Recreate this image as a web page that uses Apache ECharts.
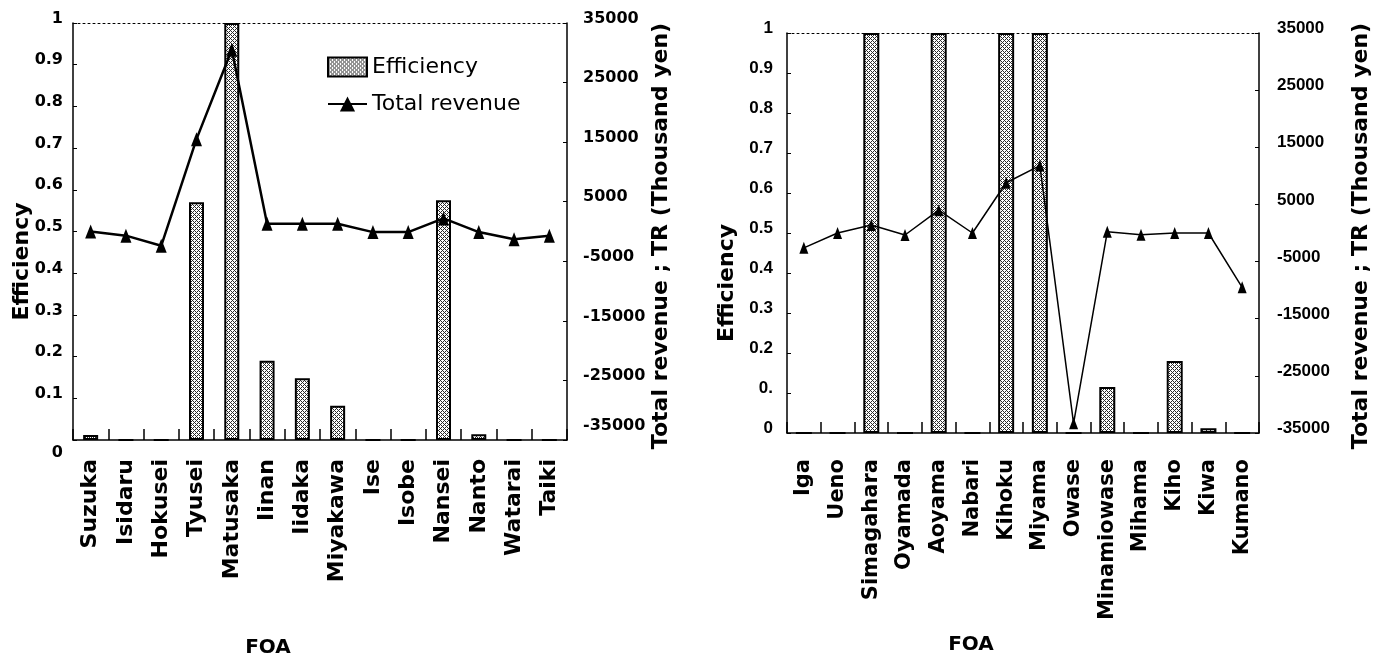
<!DOCTYPE html>
<html>
<head>
<meta charset="utf-8">
<script src="https://cdn.jsdelivr.net/npm/echarts@6/dist/echarts.min.js"></script>
<style>html,body{margin:0;background:#fff}#c{width:1387px;height:658px}</style>
</head>
<body>
<div id="c"></div>
<script>
// Efficiency (bars, left axis) and total revenue (line, right axis) per FOA, two panels.
const leftFOA = ['Suzuka','Isidaru','Hokusei','Tyusei','Matusaka','Iinan','Iidaka','Miyakawa','Ise','Isobe','Nansei','Nanto','Watarai','Taiki'];
const leftEfficiency = [0.012, 0, 0, 0.57, 1, 0.19, 0.148, 0.082, 0, 0, 0.575, 0.014, 0, 0];
const leftRevenue = [0, -700, -2400, 15500, 30500, 1300, 1300, 1300, -100, -100, 2200, -100, -1300, -700];

const rightFOA = ['Iga','Ueno','Simagahara','Oyamada','Aoyama','Nabari','Kihoku','Miyama','Owase','Minamiowase','Mihama','Kiho','Kiwa','Kumano'];
const rightEfficiency = [0, 0, 1, 0, 1, 0, 1, 1, 0, 0.115, 0, 0.18, 0.012, 0];
const rightRevenue = [-2600, 0, 1400, -350, 4000, 0, 8800, 11800, -33300, 200, -300, 0, 0, -9500];

const effRange = [0, 1, 0.1];            // min, max, step
const trRange = [-35000, 35000, 10000];

const INK = '#000';
const WIDE = '"DejaVu Sans", sans-serif';
const ARIAL = '"Liberation Sans", Arial, sans-serif';

// scanned-looking crosshatch fill for the bars
function hatch() {
  const c = document.createElement('canvas');
  c.width = c.height = 4;
  const g = c.getContext('2d');
  g.fillStyle = '#fff'; g.fillRect(0, 0, 4, 4);
  g.fillStyle = '#2a2a2a';
  [[0,0],[1,1],[2,2],[3,3],[1,3],[3,1]].forEach(([x, y]) => g.fillRect(x, y, 1, 1));
  return { image: c, repeat: 'repeat' };
}

function txt(size, family, bold = true) {
  return { color: INK, fontFamily: family, fontSize: size, fontWeight: bold ? 'bold' : 'normal' };
}

function catAxis(gridIndex, data, o) {
  return {
    type: 'category', gridIndex, data, position: 'bottom', boundaryGap: true,
    axisLine: { onZero: false, lineStyle: { color: INK, width: 1.5 } },
    axisTick: { show: true, inside: true, interval: 0, alignWithLabel: false, length: 11,
                lineStyle: { color: INK, width: 1.5 } },
    axisLabel: { rotate: 90, interval: 0, margin: o.margin, ...txt(o.size, WIDE) },
    name: 'FOA', nameLocation: 'middle', nameGap: o.nameGap, nameMoveOverlap: false,
    nameTextStyle: { ...txt(20, WIDE), padding: [0, o.shift, 0, 0] },
  };
}

function topAxis(gridIndex, data) {
  return {
    type: 'category', gridIndex, data, position: 'top', boundaryGap: true,
    axisLine: { onZero: false, lineStyle: { color: INK, width: 1, type: [2, 3] } },
    axisTick: { show: false }, axisLabel: { show: false },
  };
}

function valAxis(gridIndex, range, o) {
  return {
    type: 'value', gridIndex, position: o.position,
    min: range[0], max: range[1], interval: range[2],
    axisLine: { show: true, onZero: false, lineStyle: { color: INK, width: 1.5 } },
    axisTick: { show: true, inside: true, length: 4, lineStyle: { color: INK } },
    splitLine: { show: false },
    axisLabel: { margin: o.margin, padding: [0, 0, 9, 0], ...txt(o.size, o.family),
                 formatter: o.fmt, rich: o.rich || {} },
    name: o.name, nameLocation: 'middle', nameGap: o.nameGap, nameMoveOverlap: false,
    nameTextStyle: { ...txt(22, WIDE), padding: [0, o.shift || 0, 0, 0] },
  };
}

function bars(name, data, xi, yi, width) {
  return {
    name, type: 'bar', xAxisIndex: xi, yAxisIndex: yi, data, barWidth: width,
    itemStyle: { color: hatch(), borderColor: INK, borderWidth: 2 }, z: 2,
  };
}

function line(name, data, xi, yi, width, size) {
  return {
    name, type: 'line', xAxisIndex: xi, yAxisIndex: yi, data,
    symbol: 'triangle', symbolSize: size,
    lineStyle: { color: INK, width }, itemStyle: { color: INK }, z: 3,
  };
}

const chart = echarts.init(document.getElementById('c'));
chart.setOption({
  backgroundColor: '#fff',
  animation: false,
  grid: [
    { left: 73, top: 23, width: 494, height: 417, containLabel: false, outerBoundsMode: 'none' },
    { left: 787, top: 33, width: 472, height: 400, containLabel: false, outerBoundsMode: 'none' },
  ],
  legend: {
    data: [{ name: 'Efficiency', icon: 'rect' }, { name: 'Total revenue' }],
    orient: 'vertical', left: 322, top: 51,
    itemWidth: 39, itemHeight: 19, itemGap: 15,
    textStyle: txt(22, WIDE, false),
  },
  xAxis: [
    catAxis(0, leftFOA, { margin: 19, size: 22, nameGap: 198, shift: 104 }),
    catAxis(1, rightFOA, { margin: 26, size: 21, nameGap: 202, shift: 104 }),
    topAxis(0, leftFOA),
    topAxis(1, rightFOA),
  ],
  yAxis: [
    valAxis(0, effRange, {
      position: 'left', margin: 10, size: 16, family: WIDE,
      fmt: v => v === 0 ? '{lo|0}' : String(v),
      rich: { lo: { ...txt(16, WIDE), padding: [34, 0, 0, 0] } },
      name: 'Efficiency', nameGap: 40, shift: 60,
    }),
    valAxis(0, trRange, {
      position: 'right', margin: 16, size: 16, family: WIDE,
      fmt: v => v === -35000 ? '{hi|-35000}' : String(v),
      rich: { hi: { ...txt(16, WIDE), padding: [0, 0, 20, 0] } },
      name: 'Total revenue ; TR (Thousand yen)', nameGap: 83, shift: 9,
    }),
    valAxis(1, effRange, {
      position: 'left', margin: 14, size: 17, family: ARIAL,
      fmt: v => Math.abs(v - 0.1) < 1e-9 ? '0.' : String(v),
      name: 'Efficiency', nameGap: 49, shift: 100,
    }),
    valAxis(1, trRange, {
      position: 'right', margin: 18, size: 17, family: ARIAL,
      fmt: v => String(v),
      name: 'Total revenue ; TR (Thousand yen)', nameGap: 91, shift: 6,
    }),
  ],
  series: [
    bars('Efficiency', leftEfficiency, 0, 0, 15),
    line('Total revenue', leftRevenue, 0, 1, 2.5, [11, 14]),
    bars('Efficiency', rightEfficiency, 1, 2, 16),
    line('Total revenue', rightRevenue, 1, 3, 1.5, [9, 12]),
  ],
});
</script>
</body>
</html>
